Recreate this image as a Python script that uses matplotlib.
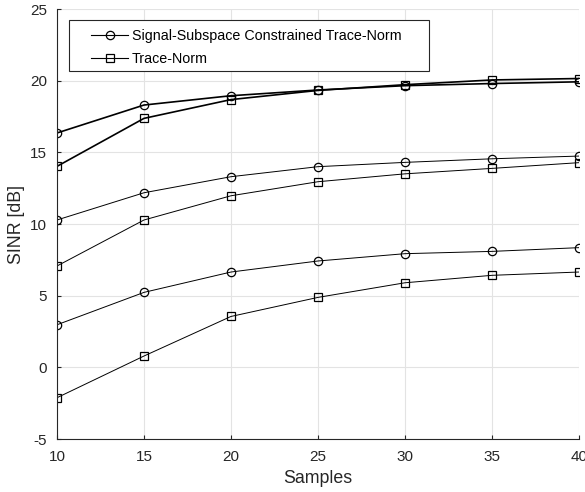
import matplotlib
matplotlib.use('Agg')
import matplotlib.pyplot as plt
from matplotlib.patches import Rectangle

plt.rcParams['font.family'] = ['Liberation Sans', 'DejaVu Sans']
plt.rcParams['axes.unicode_minus'] = False

samples = [10, 15, 20, 25, 30, 35, 40]

# signal-subspace constrained trace-norm (circles)
ssc_high = [16.35, 18.3, 18.95, 19.35, 19.65, 19.8, 19.92]
ssc_mid = [10.28, 12.18, 13.3, 14.0, 14.3, 14.55, 14.74]
ssc_low = [2.97, 5.23, 6.65, 7.42, 7.93, 8.09, 8.35]

# trace-norm (squares)
tn_high = [14.02, 17.37, 18.68, 19.32, 19.72, 20.05, 20.15]
tn_mid = [7.07, 10.28, 11.97, 12.95, 13.5, 13.88, 14.28]
tn_low = [-2.12, 0.79, 3.55, 4.88, 5.9, 6.42, 6.65]

fig = plt.figure(figsize=(5.85, 4.92), dpi=100)
ax = fig.add_axes([0.0974, 0.1077, 0.8923, 0.874])

circ = dict(color='k', marker='o', markersize=6, markerfacecolor='none', markeredgewidth=0.9)
sq = dict(color='k', marker='s', markersize=5.5, markerfacecolor='none', markeredgewidth=0.9)

ax.plot(samples, ssc_high, linewidth=1.2, label='Signal-Subspace Constrained Trace-Norm', **circ)
ax.plot(samples, tn_high, linewidth=1.2, label='Trace-Norm', **sq)
ax.plot(samples, ssc_mid, linewidth=0.7, **circ)
ax.plot(samples, tn_mid, linewidth=0.7, **sq)
ax.plot(samples, ssc_low, linewidth=0.7, **circ)
ax.plot(samples, tn_low, linewidth=0.7, **sq)

ax.set_xlim(10, 40)
ax.set_ylim(-5, 25)
ax.set_xticks([10, 15, 20, 25, 30, 35, 40])
ax.set_yticks([-5, 0, 5, 10, 15, 20, 25])
ax.grid(True, color='#e3e3e3', linewidth=0.8)
ax.set_axisbelow(True)
for s in ['top', 'right']:
    ax.spines[s].set_visible(False)
for s in ['left', 'bottom']:
    ax.spines[s].set_color('#262626')
ax.tick_params(direction='in', length=3, labelsize=11, colors='#262626')
ax.tick_params(axis='x', pad=8)
ax.tick_params(axis='y', pad=7)
ax.set_xlabel('Samples', fontsize=12.8, color='#262626', labelpad=4)
ax.set_ylabel('SINR [dB]', fontsize=12.8, color='#262626', labelpad=4)

# legend box drawn by hand to get the wide padding
fig.patches.append(Rectangle((69 / 585, 1 - 71 / 492), 360 / 585, 51 / 492,
                             transform=fig.transFigure, facecolor='white',
                             edgecolor='#262626', linewidth=0.8, zorder=3))
leg = fig.legend(loc='upper left', bbox_to_anchor=(91 / 585, 1 - 29 / 492),
                 fontsize=10.3, frameon=False, borderpad=0, borderaxespad=0,
                 handlelength=2.6, handletextpad=0.25, labelspacing=0.6)
leg.set_zorder(4)
for line in leg.get_lines():
    line.set_linewidth(0.8)

fig.savefig('out.png', dpi=100)
